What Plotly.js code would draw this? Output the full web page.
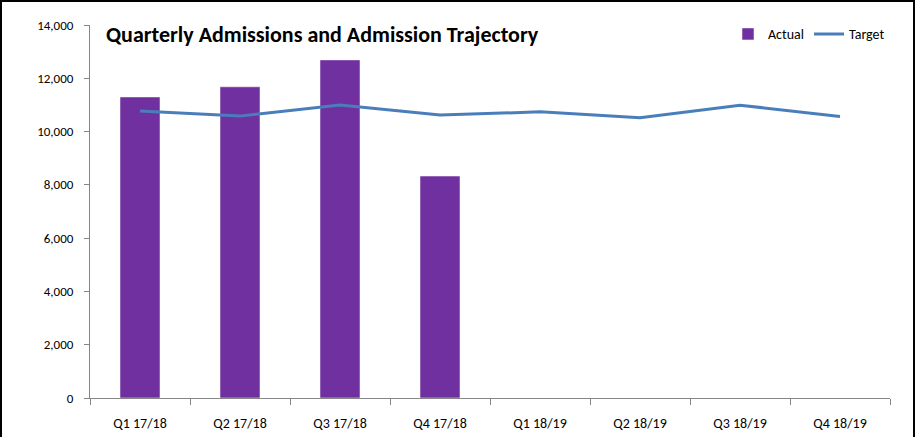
<!DOCTYPE html>
<html>
<head>
<meta charset="utf-8">
<script src="https://cdn.plot.ly/plotly-3.0.1.min.js"></script>
<style>
  body { margin: 0; background: #fff; }
  #chart { width: 915px; height: 437px; }
  #frame { position: absolute; left: 0; top: 0; width: 911px; height: 437px;
           border: 2px solid #000; border-bottom: none; pointer-events: none; }
</style>
</head>
<body>
<div id="chart"></div>
<div id="frame"></div>
<script>
// quarters
var quarters = ["Q1 17/18", "Q2 17/18", "Q3 17/18", "Q4 17/18",
                "Q1 18/19", "Q2 18/19", "Q3 18/19", "Q4 18/19"];
// actual admissions (only first four quarters reported)
var actual = [11300, 11680, 12690, 8330, null, null, null, null];
// admission trajectory
var target = [10770, 10580, 11000, 10620, 10740, 10520, 10990, 10570];

var font = "Carlito, 'Liberation Sans Narrow', 'Arial Narrow', Arial, sans-serif";

var data = [
  {
    x: quarters, y: actual, name: "Actual", type: "bar",
    marker: {color: "#7030a0", line: {color: "#ffffff", width: 0.5}},
    width: 0.4
  },
  {
    x: quarters, y: target, name: "Target", type: "scatter", mode: "lines",
    line: {color: "#4a7ebb", width: 3}
  }
];

var layout = {
  width: 915, height: 437,
  margin: {l: 90, r: 25, t: 25, b: 39},
  paper_bgcolor: "#fff", plot_bgcolor: "#fff",
  font: {family: font, size: 13, color: "#000"},
  showlegend: true,
  legend: {
    orientation: "h", x: 1.0, xanchor: "right", y: 0.975, yanchor: "middle",
    font: {family: font, size: 14}, bgcolor: "rgba(0,0,0,0)",
    itemwidth: 30, tracegroupgap: 0
  },
  annotations: [{
    text: "<b>Quarterly Admissions and Admission Trajectory</b>",
    xref: "paper", yref: "paper", x: 0.017, y: 0.975, xanchor: "left", yanchor: "middle",
    showarrow: false, font: {family: font, size: 22, color: "#000"}
  }],
  xaxis: {
    type: "category", showgrid: false, showline: true, linecolor: "#868686",
    ticks: "outside", tickson: "boundaries", ticklen: 6, tickcolor: "#868686",
    ticklabelstandoff: 12, zeroline: false, range: [-0.5, 7.5],
    tickfont: {size: 14}
  },
  yaxis: {
    range: [0, 14000], dtick: 2000, tickformat: ",d", showgrid: false,
    showline: true, linecolor: "#868686", ticks: "outside", ticklen: 5,
    tickcolor: "#868686", ticklabelstandoff: 8, zeroline: false,
    tickfont: {size: 13}
  },
  bargap: 0.6
};

Plotly.newPlot("chart", data, layout, {displayModeBar: false, staticPlot: true});
</script>
</body>
</html>
